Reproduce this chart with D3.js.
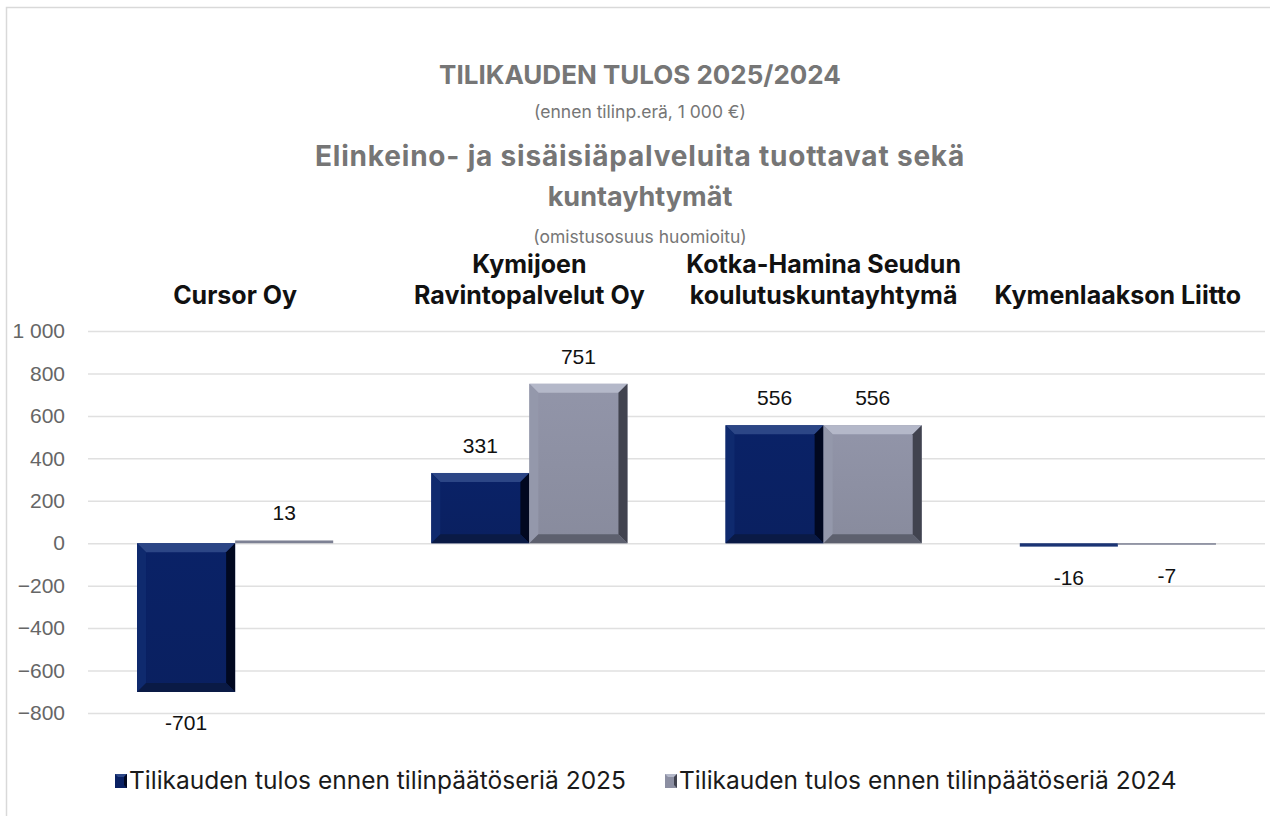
<!DOCTYPE html>
<html>
<head>
<meta charset="utf-8">
<script src="https://cdn.jsdelivr.net/npm/d3@7"></script>
<style>
  html, body { margin: 0; padding: 0; background: #fff; }
  svg { display: block; }
</style>
</head>
<body>
<div id="chart"></div>
<script>
// Data
const categories = ["Cursor Oy", "Kymijoen Ravintopalvelut Oy", "Kotka-Hamina Seudun koulutuskuntayhtymä", "Kymenlaakson Liitto"];
const categoryLines = [["Cursor Oy"], ["Kymijoen", "Ravintopalvelut Oy"], ["Kotka-Hamina Seudun", "koulutuskuntayhtymä"], ["Kymenlaakson Liitto"]];
const seriesNames = ["Tilikauden tulos ennen tilinpäätöseriä 2025", "Tilikauden tulos ennen tilinpäätöseriä 2024"];
const values2025 = [-701, 331, 556, -16];
const values2024 = [13, 751, 556, -7];
const yTicks = [-800, -600, -400, -200, 0, 200, 400, 600, 800, 1000];
const titleLines = ["TILIKAUDEN TULOS 2025/2024", "(ennen tilinp.erä, 1 000 €)", "Elinkeino- ja sisäisiäpalveluita tuottavat sekä", "kuntayhtymät", "(omistusosuus huomioitu)"];

const width = 1270, height = 816;
const plot = { left: 88, right: 1265, top: 331, bottom: 713 };

const svg = d3.select("#chart").append("svg")
    .attr("width", width)
    .attr("height", height);

// chart frame (continues past the right/bottom edge)
svg.append("rect")
    .attr("x", 6.5).attr("y", 7.5)
    .attr("width", 1300).attr("height", 900)
    .attr("fill", "#fff")
    .attr("stroke", "#d9d9d9")
    .attr("stroke-width", 1.5);

// Titles
const titleFont = "Inter, 'Open Sans', sans-serif";
const titleSpec = [
    { y: 84, size: 26, weight: 700, ls: 0 },
    { y: 118, size: 17.5, weight: 400, ls: 0 },
    { y: 166, size: 28, weight: 700, ls: 0.8 },
    { y: 206, size: 27, weight: 700, ls: 0 },
    { y: 243, size: 17.5, weight: 400, ls: 0 }
];
svg.append("g").selectAll("text")
    .data(titleLines)
    .join("text")
    .attr("x", 640)
    .attr("y", (d, i) => titleSpec[i].y)
    .attr("text-anchor", "middle")
    .attr("fill", "#767676")
    .style("font-family", titleFont)
    .style("font-size", (d, i) => titleSpec[i].size + "px")
    .style("font-weight", (d, i) => titleSpec[i].weight)
    .style("letter-spacing", (d, i) => titleSpec[i].ls + "px")
    .text(d => d);

// Scales
const y = d3.scaleLinear().domain([-800, 1000]).range([plot.bottom, plot.top]);
const x0 = d3.scaleBand().domain(d3.range(categories.length)).range([plot.left, plot.right]).padding(0);
const x1 = d3.scaleBand().domain([0, 1]).range([0, x0.bandwidth()]).paddingInner(0).paddingOuter(0.5);

// Gridlines
svg.append("g").selectAll("line")
    .data(yTicks)
    .join("line")
    .attr("x1", plot.left).attr("x2", plot.right)
    .attr("y1", d => y(d) + 0.5).attr("y2", d => y(d) + 0.5)
    .attr("stroke", "#e0e0e0")
    .attr("stroke-width", 1.5);

// Y axis labels
const yAxis = d3.axisLeft(y)
    .tickValues(yTicks)
    .tickSize(0)
    .tickPadding(0)
    .tickFormat(d => d3.format(",")(d).replace(/,/g, "\u00a0"));
const yAxisG = svg.append("g")
    .attr("transform", `translate(65,0)`)
    .call(yAxis);
yAxisG.select(".domain").remove();
yAxisG.selectAll("text")
    .attr("fill", "#666")
    .style("font-family", "'Liberation Sans', Arial, sans-serif")
    .style("font-size", "21px");

// Category labels on top
const catG = svg.append("g");
categoryLines.forEach((lines, i) => {
    const cx = x0(i) + x0.bandwidth() / 2;
    lines.forEach((ln, j) => {
        catG.append("text")
            .attr("x", cx)
            .attr("y", 304 - (lines.length - 1 - j) * 31)
            .attr("text-anchor", "middle")
            .attr("fill", "#111")
            .style("font-family", titleFont)
            .style("font-size", "25px")
            .style("font-weight", 700)
            .text(ln);
    });
});

// Bevelled bar drawing
const palettes = [
    { face: "#0a2163", top: "#2c4686", left: "#0f2a6e", right: "#010820", bottom: "#0a1a45" },
    { face: "#8c8fa2", top: "#b4b8c9", left: "#9498ab", right: "#41434f", bottom: "#5d606e" }
];

const defs = svg.append("defs");
palettes.forEach((p, i) => {
    const g = defs.append("linearGradient").attr("id", "face" + i)
        .attr("x1", 0).attr("x2", 0).attr("y1", 0).attr("y2", 1);
    g.append("stop").attr("offset", "0%").attr("stop-color", d3.color(p.face).brighter(0.12));
    g.append("stop").attr("offset", "100%").attr("stop-color", d3.color(p.face).darker(0.08));
});

const bars = [];
categories.forEach((c, i) => {
    [values2025[i], values2024[i]].forEach((v, s) => {
        bars.push({ cat: i, series: s, value: v });
    });
});

const barG = svg.append("g");
bars.forEach(b => {
    const bx = x0(b.cat) + x1(b.series);
    const bw = x1.bandwidth();
    const yTop = y(Math.max(0, b.value));
    const yBot = y(Math.min(0, b.value));
    const bh = yBot - yTop;
    const p = palettes[b.series];
    const g = barG.append("g");
    const bev = Math.min(9, bh / 2, bw / 2);
    const L = bx, R = bx + bw, T = yTop, B = yBot;
    g.append("rect")
        .attr("x", L).attr("y", T).attr("width", bw).attr("height", Math.max(bh, 1.5))
        .attr("fill", `url(#face${b.series})`);
    if (bh > 4) {
        const poly = (pts, fill) => g.append("polygon")
            .attr("points", pts.map(q => q.join(",")).join(" "))
            .attr("fill", fill);
        poly([[L, T], [R, T], [R - bev, T + bev], [L + bev, T + bev]], p.top);
        poly([[L, T], [L + bev, T + bev], [L + bev, B - bev], [L, B]], p.left);
        poly([[R, T], [R, B], [R - bev, B - bev], [R - bev, T + bev]], p.right);
        poly([[L, B], [L + bev, B - bev], [R - bev, B - bev], [R, B]], p.bottom);
    } else {
        g.select("rect").attr("fill", b.series === 0 ? "#1b3474" : "#7d8194");
    }
});

// Data labels
const labelG = svg.append("g");
bars.forEach(b => {
    const cx = x0(b.cat) + x1(b.series) + x1.bandwidth() / 2;
    const ly = b.value >= 0 ? y(b.value) - 20 : y(b.value) + 38;
    labelG.append("text")
        .attr("x", cx)
        .attr("y", ly)
        .attr("text-anchor", "middle")
        .attr("fill", "#111")
        .style("font-family", "'Liberation Sans', Arial, sans-serif")
        .style("font-size", "21px")
        .text(b.value);
});

// Legend
const legendX = [115, 665];
const legendG = svg.append("g");
seriesNames.forEach((name, i) => {
    const p = palettes[i];
    const lx = legendX[i], ly = 774;
    legendG.append("rect").attr("x", lx).attr("y", ly).attr("width", 12).attr("height", 14).attr("fill", p.face);
    legendG.append("polygon").attr("points", `${lx},${ly} ${lx + 12},${ly} ${lx + 9},${ly + 3} ${lx + 3},${ly + 3}`).attr("fill", p.top);
    legendG.append("polygon").attr("points", `${lx + 12},${ly} ${lx + 12},${ly + 14} ${lx + 9},${ly + 11} ${lx + 9},${ly + 3}`).attr("fill", p.right);
    legendG.append("text")
        .attr("x", lx + 14)
        .attr("y", ly + 15)
        .attr("fill", "#1a1a1a")
        .style("font-family", titleFont)
        .style("font-size", "24.5px")
        .text(name);
});
</script>
</body>
</html>
